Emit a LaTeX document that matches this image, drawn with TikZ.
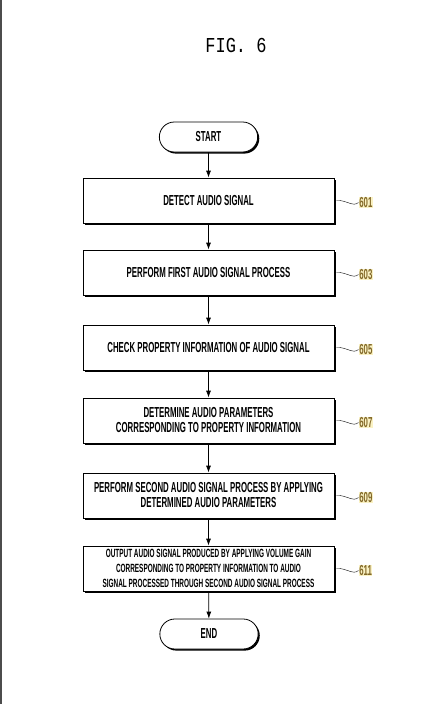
\documentclass[tikz,border=0pt]{standalone}
\usepackage{fontspec}
\newfontfamily\condfont[FakeStretch=0.54]{Liberation Sans Bold}
\newfontfamily\figfont{Liberation Mono}
\usetikzlibrary{positioning,shapes.misc,shadows,arrows.meta}
\definecolor{refbrown}{RGB}{130,104,40}
\definecolor{refhilite}{RGB}{250,242,196}

\begin{document}
\begin{tikzpicture}[x=1pt,y=-1pt,line width=0.8pt,>={Latex[length=7pt,width=5pt]},
  shade box/.style={drop shadow={shadow xshift=1.6pt,shadow yshift=-1.6pt,fill=black,opacity=1}}]
\tikzstyle{stepbox} = [draw,fill=white,rectangle,minimum width=251pt,minimum height=45pt,align=center,inner sep=2pt,font=\condfont\fontsize{14.5}{15}\selectfont,shade box]
\tikzstyle{term} = [draw,fill=white,rounded rectangle,minimum width=105pt,minimum height=30pt,font=\condfont\fontsize{14.5}{15}\selectfont,shade box]
\tikzstyle{reflabel} = [text=refbrown,fill=refhilite,inner sep=0.5pt,font=\condfont\fontsize{14.5}{15}\selectfont]
\tikzstyle{leader} = [draw,line width=0.4pt]

\useasboundingbox (0,0) rectangle (428,704);
\draw[line width=1.5pt,black!70] (0.75,0) -- (0.75,704);

\node (fig) at (236,45) {\figfont\fontsize{17}{17}\selectfont\scalebox{1}[1.25]{FIG. 6}};

\node[term] (start) at (208.5,137) {START};

\node[stepbox] (b601) at (208.5,200.5) {DETECT AUDIO SIGNAL};
\node[stepbox] (b603) at (208.5,272.5) {PERFORM FIRST AUDIO SIGNAL PROCESS};
\node[stepbox] (b605) at (208.5,347.5) {CHECK PROPERTY INFORMATION OF AUDIO SIGNAL};
\node[stepbox] (b607) at (208.5,420.5) {DETERMINE AUDIO PARAMETERS\\CORRESPONDING TO PROPERTY INFORMATION};
\node[stepbox] (b609) at (208.5,495.5) {PERFORM SECOND AUDIO SIGNAL PROCESS BY APPLYING\\DETERMINED AUDIO PARAMETERS};
\node[stepbox,font=\condfont\fontsize{11.9}{15}\selectfont] (b611) at (208.5,568.5) {OUTPUT AUDIO SIGNAL PRODUCED BY APPLYING VOLUME GAIN\\CORRESPONDING TO PROPERTY INFORMATION TO AUDIO\\SIGNAL PROCESSED THROUGH SECOND AUDIO SIGNAL PROCESS};

\node[term] (end) at (209,634) {END};

% flow
\draw[->] (start) -- (b601);
\draw[->] (b601) -- (b603);
\draw[->] (b603) -- (b605);
\draw[->] (b605) -- (b607);
\draw[->] (b607) -- (b609);
\draw[->] (b609) -- (b611);
\draw[->] (b611) -- (end);

% Labels
\node[reflabel,right=24pt of b601,yshift=-2pt] (l601) {601};
\node[reflabel,right=24pt of b603,yshift=-2pt] (l603) {603};
\node[reflabel,right=24pt of b605,yshift=-2pt] (l605) {605};
\node[reflabel,right=24pt of b607,yshift=-2pt] (l607) {607};
\node[reflabel,right=24pt of b609,yshift=-2pt] (l609) {609};
\node[reflabel,right=24pt of b611,yshift=-2pt] (l611) {611};

\draw[leader] ([xshift=2pt]b601.east) .. controls +(9,-1) and +(-5,5) .. (l601.west);
\draw[leader] ([xshift=2pt]b603.east) .. controls +(9,-1) and +(-5,5) .. (l603.west);
\draw[leader] ([xshift=2pt]b605.east) .. controls +(9,-1) and +(-5,5) .. (l605.west);
\draw[leader] ([xshift=2pt]b607.east) .. controls +(9,-1) and +(-5,5) .. (l607.west);
\draw[leader] ([xshift=2pt]b609.east) .. controls +(9,-1) and +(-5,5) .. (l609.west);
\draw[leader] ([xshift=2pt]b611.east) .. controls +(9,-1) and +(-5,5) .. (l611.west);

\end{tikzpicture}
\end{document}
